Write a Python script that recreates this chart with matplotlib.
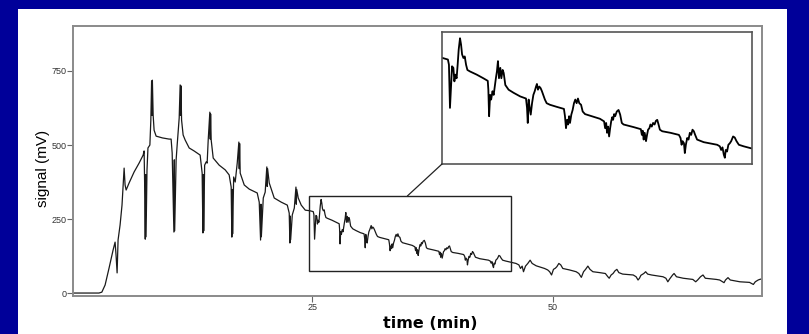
import numpy as np
import matplotlib
matplotlib.use("Agg")
import matplotlib.pyplot as plt
from matplotlib.patches import Rectangle, ConnectionPatch

# ---- digitised signal (time in min, signal in mV) ----
# injections phase: (time, signal)
rise = [(0.1, 0), (2.8, 0), (3.1, 3), (3.44, 27), (3.85, 84), (4.27, 145),
        (4.48, 172), (4.58, 128), (4.69, 68), (4.79, 179), (5.0, 230), (5.2, 297),
        (5.42, 422), (5.52, 365), (5.63, 348), (5.94, 372), (6.46, 409), (6.98, 439),
        (7.4, 466), (7.5, 480), (7.58, 320), (7.62, 182), (7.66, 400), (7.7, 190),
        (7.8, 415), (7.9, 490), (8.1, 500), (8.2, 584), (8.28, 716), (8.32, 600),
        (8.36, 719), (8.44, 601), (8.54, 550), (8.75, 530), (9.4, 524), (10.1, 520),
        (10.31, 520), (10.42, 473), (10.6, 206), (10.64, 450), (10.68, 210),
        (10.83, 449), (10.94, 500), (11.15, 591), (11.25, 703), (11.29, 600),
        (11.33, 700), (11.4, 584), (11.56, 534), (11.77, 517), (12.19, 490),
        (12.7, 480), (13.33, 466), (13.54, 405), (13.62, 203), (13.66, 400),
        (13.7, 210), (13.8, 432), (13.96, 443), (14.06, 439), (14.17, 517),
        (14.34, 611), (14.38, 520), (14.42, 605), (14.48, 517), (14.69, 456),
        (15.31, 432), (15.94, 416), (16.35, 399), (16.56, 358), (16.63, 189),
        (16.67, 350), (16.71, 200), (16.82, 392), (16.98, 375), (17.19, 439),
        (17.36, 510), (17.4, 420), (17.44, 505), (17.5, 405), (17.92, 365),
        (18.44, 351), (19.27, 338), (19.48, 307), (19.62, 179), (19.66, 300),
        (19.7, 190), (19.9, 321), (20.1, 341), (20.27, 426), (20.31, 360),
        (20.35, 420), (20.52, 372), (21.04, 321), (21.77, 307), (22.4, 297),
        (22.6, 270), (22.67, 169), (22.71, 260), (22.75, 180), (22.92, 264),
        (23.13, 287), (23.3, 358), (23.34, 300), (23.38, 350), (23.54, 321),
        (23.85, 297), (24.27, 280)]
t_rise = [p[0] for p in rise]
v_rise = [p[1] for p in rise]

# decay phase (zoomed region + tail)
t_rest = [24.74, 25.1, 25.17, 25.24, 25.31, 25.38, 25.47, 25.54, 25.6, 25.69, 25.76,
     25.83, 25.92, 25.99, 26.06, 26.15, 26.24, 26.33, 26.42, 26.6, 27.05, 27.5,
     27.8, 27.84, 27.89, 27.96, 28.03, 28.12, 28.2, 28.26, 28.35, 28.42, 28.49,
     28.56, 28.65, 28.72, 28.81, 28.88, 28.99, 29.21, 29.55, 30.0, 30.39, 30.46,
     30.51, 30.57, 30.64, 30.71, 30.8, 30.89, 30.98, 31.07, 31.13, 31.2, 31.29,
     31.38, 31.47, 31.56, 31.67, 31.79, 32.01, 32.47, 32.96, 33.03, 33.1, 33.17,
     33.24, 33.31, 33.37, 33.46, 33.55, 33.64, 33.73, 33.82, 33.91, 34.0, 34.12,
     34.23, 34.39, 34.73, 35.4, 35.68, 35.75, 35.82, 35.88, 35.95, 36.02, 36.09,
     36.16, 36.23, 36.29, 36.36, 36.43, 36.54, 36.66, 36.77, 36.88, 37.0, 37.68,
     38.17, 38.24, 38.3, 38.36, 38.43, 38.52, 38.59, 38.66, 38.75, 38.82, 38.91,
     39.0, 39.1, 39.19, 39.28, 39.37, 39.46, 39.62, 40.18, 40.75, 40.86, 40.93,
     41.0, 41.09, 41.15, 41.22, 41.31, 41.4, 41.49, 41.58, 41.67, 41.76, 41.85,
     41.98, 42.43, 43.34, 43.52, 43.61, 43.7, 43.79, 43.86, 43.92, 44.01, 44.1,
     44.2, 44.29, 44.42, 44.53, 44.65, 44.81, 45.14, 45.66,
     46.2, 46.5, 46.67, 46.84, 46.98, 47.19, 47.43, 47.67, 47.88, 48.3, 49.17,
     49.5, 49.7, 49.9, 50.1, 50.3, 50.45, 50.66, 50.86, 51.07, 51.77, 52.46, 52.74,
     53.0, 53.23, 53.44, 53.68, 53.9, 54.2, 54.9, 55.5, 55.76, 55.9, 56.1, 56.3,
     56.5, 56.7, 56.9, 57.3, 58.4, 58.7, 58.9, 59.05, 59.2, 59.5, 59.69, 59.9,
     60.3, 61.5, 61.8, 62.0, 62.2, 62.5, 62.65, 62.9, 63.6, 64.6, 64.9, 65.1, 65.4,
     65.66, 65.9, 67.05, 67.4, 67.85, 68.0, 68.26, 68.5, 69.5, 70.5, 70.9, 71.1,
     71.4, 71.56, 71.8]
v_rest = [278, 275, 265, 182, 220, 262, 259, 233, 246, 239, 265,
          294, 316, 304, 285, 278, 281, 265, 255, 252, 246, 239,
          234, 217, 166, 207, 198, 214, 207, 220, 239, 252, 272,
          239, 259, 239, 255, 249, 226, 217, 211, 204, 200, 182,
          153, 198, 182, 169, 191, 207, 214, 223, 228, 217, 223,
          220, 214, 207, 198, 191, 188, 184, 180, 166, 143, 159,
          150, 166, 153, 169, 178, 191, 198, 191, 200, 191, 188,
          175, 170, 167, 161, 156, 143, 153, 134, 146, 127, 143,
          156, 164, 159, 170, 166, 175, 178, 169, 153, 150, 145,
          141, 130, 138, 121, 134, 118, 130, 140, 143, 150, 146,
          153, 150, 157, 159, 150, 140, 137, 134, 130, 124, 111,
          118, 114, 95, 111, 124, 121, 134, 130, 140, 137, 130,
          121, 116, 111, 108, 101, 106, 92, 86, 101, 98, 111,
          114, 118, 127, 125, 118, 111, 108, 104,
          100, 95, 83, 91, 72, 91, 100, 111, 100, 92, 83,
          78, 72, 61, 80, 84, 89, 100, 95, 83, 78, 72, 66,
          53, 72, 80, 91, 80, 72, 69, 66, 55, 50, 61, 66,
          75, 80, 69, 64, 61, 55, 44, 50, 60, 66, 72, 64,
          61, 55, 50, 38, 48, 61, 66, 55, 50, 46, 38, 44, 55,
          61, 50, 46, 44, 35, 44, 52, 44, 38, 36, 29, 38,
          44, 46, 48]

t = t_rise + t_rest
signal = v_rise + v_rest

y_ticks = [0, 250, 500, 750]
x_ticks = [25, 50]
zoom_t = (24.7, 45.7)
zoom_v = (74, 328)

blue = "#000099"
fig = plt.figure(figsize=(8.09, 3.34), dpi=100, facecolor=blue)
plt.rcParams["font.family"] = ["Liberation Sans", "DejaVu Sans"]

# white slide panel, behind everything
fig.patches.append(Rectangle((18 / 809, 0), (787 - 18) / 809, 1 - 9 / 334,
                             transform=fig.transFigure, facecolor="white",
                             edgecolor="none", zorder=-5))

# ---- main axes ----
ax = fig.add_axes([73 / 809, 1 - 296 / 334, (762 - 73) / 809, (296 - 26) / 334])
ax.plot(t, signal, color="#1a1a1a", lw=0.9)
ax.set_xlim(0.1, 71.8)
ax.set_ylim(-10, 902)
ax.set_xticks(x_ticks)
ax.set_yticks(y_ticks)
ax.tick_params(labelsize=6.5, length=4, width=0.8, color="#666666",
               labelcolor="#333333", pad=0.8)
for s in ax.spines.values():
    s.set_color("#8a8a8a")
    s.set_linewidth(1.4)

ax.add_patch(Rectangle((zoom_t[0], zoom_v[0]), zoom_t[1] - zoom_t[0],
                       zoom_v[1] - zoom_v[0], fill=False, edgecolor="#222222",
                       lw=1.0, zorder=3))

fig.text(43 / 809, 1 - 168 / 334, "signal (mV)", rotation=90, ha="center",
         va="center", fontsize=11)
fig.text(430 / 809, 1 - 323 / 334, "time (min)", ha="center", va="center",
         fontsize=11.5, fontweight="bold", family="DejaVu Sans")

# ---- inset (zoom) ----
axin = fig.add_axes([442 / 809, 1 - 164 / 334, (752 - 442) / 809, (164 - 32) / 334])
axin.plot(t, signal, color="black", lw=1.3)
axin.set_xlim(*zoom_t)
axin.set_ylim(*zoom_v)
axin.set_xticks([])
axin.set_yticks([])
for s in axin.spines.values():
    s.set_color("#555555")
    s.set_linewidth(1.2)

con = ConnectionPatch(xyA=(34.9, zoom_v[1]), coordsA=ax.transData,
                      xyB=(0, 0), coordsB=axin.transAxes,
                      color="#222222", lw=0.9)
fig.add_artist(con)

fig.savefig("out.png", dpi=100, facecolor=blue)
